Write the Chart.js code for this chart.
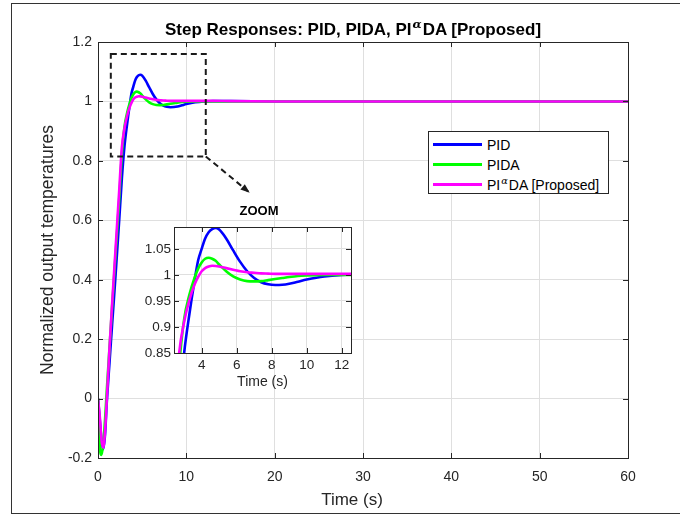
<!DOCTYPE html>
<html>
<head>
<meta charset="utf-8">
<script src="https://cdn.jsdelivr.net/npm/chart.js@4.4.1/dist/chart.umd.min.js"></script>
<style>
  body { margin: 0; background: #fff; font-family: "Liberation Sans", Arial, sans-serif; color: #262626; }
  #wrap { position: relative; width: 680px; height: 515px; overflow: hidden; }
  canvas { position: absolute; }
  #mainChart { left: 0; top: 0; }
  #zoomChart { left: 130px; top: 200px; }
  .txt { position: absolute; white-space: nowrap; line-height: 1; }
  #title { left: 103px; width: 500px; top: 21px; text-align: center; font-weight: bold; font-size: 17px; color: #000; }
  #xlab { left: 252px; width: 200px; top: 491px; text-align: center; font-size: 17px; }
  #zoomlab { left: 209px; width: 100px; top: 204px; text-align: center; font-weight: bold; font-size: 13px; color: #000; }
  .al { font-family: "DejaVu Serif", serif; font-style: italic; font-size: 0.7em; position: relative; top: -0.6em; margin: 0 1px; }
  #legend { position: absolute; left: 428px; top: 131px; width: 179px; height: 61px; border: 1px solid #262626; background: #fff; font-size: 14px; }
  .row { position: absolute; left: 4px; height: 20px; }
  .row > i { position: absolute; left: 0; top: 9px; width: 49px; height: 2.5px; }
  .row > .lbl { position: absolute; left: 54px; top: 3px; white-space: nowrap; color: #000; }
  #frame { position: absolute; left: 11px; top: 3px; width: 700px; height: 509px; border: 1.5px solid #333; pointer-events: none; }
</style>
</head>
<body>
<div id="wrap">
  <canvas id="mainChart" width="680" height="515"></canvas>
  <canvas id="zoomChart" width="230" height="195"></canvas>
  <div id="title" class="txt">Step Responses: PID, PIDA, PI<span class="al">α</span>DA [Proposed]</div>
  <div id="xlab" class="txt">Time (s)</div>
  <div id="zoomlab" class="txt">ZOOM</div>
  <div id="legend">
    <div class="row" style="top:2px"><i style="background:#0000ff"></i><span class="lbl">PID</span></div>
    <div class="row" style="top:22px"><i style="background:#00ff00"></i><span class="lbl">PIDA</span></div>
    <div class="row" style="top:42px"><i style="background:#ff00ff"></i><span class="lbl">PI<span class="al">α</span>DA [Proposed]</span></div>
  </div>
  <div id="frame"></div>
</div>
<script>
// step response samples (time in s)
const time = [0, 0.2, 0.4, 0.6, 0.8, 1.0, 1.3, 1.6, 2.0, 2.4, 2.7, 3.0, 3.3, 3.6, 3.8, 4.0, 4.2, 4.4, 4.6, 4.8,
  5.0, 5.4, 5.8, 6.2, 6.6, 7.0, 7.4, 7.8, 8.2, 8.6, 9.0, 9.5, 10, 11, 12, 13, 15, 20, 30, 40, 50, 60];
const pid = [0, -0.07, -0.14, -0.17, -0.12, -0.01, 0.12, 0.25, 0.42, 0.6, 0.74, 0.85, 0.925, 0.99, 1.028, 1.05, 1.07, 1.082, 1.088, 1.09,
  1.087, 1.07, 1.047, 1.025, 1.007, 0.994, 0.986, 0.982, 0.9805, 0.981, 0.983, 0.987, 0.991, 0.997, 1.0, 1.001, 1.001, 1.0, 1.0, 1.0, 1.0, 1.0];
const pida = [0, -0.16, -0.19, -0.15, -0.07, 0.03, 0.17, 0.31, 0.49, 0.67, 0.82, 0.915, 0.962, 0.995, 1.012, 1.024, 1.031, 1.033, 1.031, 1.027,
  1.02, 1.007, 0.997, 0.991, 0.988, 0.9875, 0.988, 0.99, 0.992, 0.994, 0.996, 0.998, 0.999, 1.0, 1.0, 1.0, 1.0, 1.0, 1.0, 1.0, 1.0, 1.0];
const pialphada = [0, -0.06, -0.14, -0.165, -0.11, 0.0, 0.17, 0.32, 0.51, 0.7, 0.845, 0.91, 0.952, 0.982, 0.996, 1.007, 1.013, 1.016, 1.0175, 1.017,
  1.016, 1.013, 1.01, 1.007, 1.005, 1.004, 1.003, 1.0025, 1.002, 1.002, 1.002, 1.002, 1.002, 1.002, 1.002, 1.002, 1.001, 1.0, 1.0, 1.0, 1.0, 1.0];

const xTicksMain = [0, 10, 20, 30, 40, 50, 60];
const yTicksMain = [-0.2, 0, 0.2, 0.4, 0.6, 0.8, 1, 1.2];
const xTicksZoom = [4, 6, 8, 10, 12];
const yTicksZoom = [0.85, 0.9, 0.95, 1, 1.05];
// dashed region on the main axes that the inset magnifies
const zoomBox = { x0: 1.45, x1: 12.2, y0: 0.815, y1: 1.16 };
const arrowTip = { x: 17.0, y: 0.697 };

const fontFam = '"Liberation Sans", Arial, sans-serif';
const axisCol = '#262626';
const gridCol = '#dfdfdf';

function pts(vals) {
  return time.map((t, i) => ({ x: t, y: vals[i] }));
}

function series() {
  return [
    { label: 'PID', data: pts(pid), borderColor: '#0000ff', order: 2 },
    { label: 'PIDA', data: pts(pida), borderColor: '#00ff00', order: 1 },
    { label: 'PIαDA [Proposed]', data: pts(pialphada), borderColor: '#ff00ff', order: 0 }
  ].map(d => Object.assign(d, { borderWidth: 2.6, pointRadius: 0, cubicInterpolationMode: 'monotone', fill: false }));
}

function fmt(v) {
  return String(+Number(v).toFixed(2));
}

// matlab style box: white plot area, dark outline, inward tick marks
const boxPlugin = {
  id: 'boxPlugin',
  beforeDraw(chart) {
    const { ctx, chartArea: a } = chart;
    ctx.save();
    ctx.fillStyle = '#fff';
    ctx.fillRect(a.left, a.top, a.right - a.left, a.bottom - a.top);
    ctx.restore();
  },
  afterDatasetsDraw(chart) {
    const { ctx, chartArea: a, scales } = chart;
    const len = 5;
    ctx.save();
    ctx.strokeStyle = axisCol;
    ctx.lineWidth = 1;
    ctx.beginPath();
    scales.x.ticks.forEach(t => {
      const px = Math.round(scales.x.getPixelForValue(t.value)) + 0.5;
      ctx.moveTo(px, a.bottom); ctx.lineTo(px, a.bottom - len);
      ctx.moveTo(px, a.top); ctx.lineTo(px, a.top + len);
    });
    scales.y.ticks.forEach(t => {
      const py = Math.round(scales.y.getPixelForValue(t.value)) + 0.5;
      ctx.moveTo(a.left, py); ctx.lineTo(a.left + len, py);
      ctx.moveTo(a.right, py); ctx.lineTo(a.right - len, py);
    });
    ctx.stroke();
    ctx.strokeRect(Math.round(a.left) + 0.5, Math.round(a.top) + 0.5, Math.round(a.right - a.left), Math.round(a.bottom - a.top));
    ctx.restore();
  }
};

const zoomMarkPlugin = {
  id: 'zoomMark',
  afterDatasetsDraw(chart) {
    const { ctx, scales: { x, y } } = chart;
    const l = x.getPixelForValue(zoomBox.x0), r = x.getPixelForValue(zoomBox.x1);
    const t = y.getPixelForValue(zoomBox.y1), b = y.getPixelForValue(zoomBox.y0);
    const ax = x.getPixelForValue(arrowTip.x), ay = y.getPixelForValue(arrowTip.y);
    ctx.save();
    ctx.strokeStyle = '#1a1a1a';
    ctx.lineWidth = 2;
    ctx.setLineDash([6, 4]);
    ctx.strokeRect(l, t, r - l, b - t);
    ctx.beginPath();
    ctx.moveTo(r, b);
    ctx.lineTo(ax, ay);
    ctx.stroke();
    ctx.setLineDash([]);
    const ang = Math.atan2(ay - b, ax - r);
    ctx.fillStyle = '#1a1a1a';
    ctx.beginPath();
    ctx.moveTo(ax + 2 * Math.cos(ang), ay + 2 * Math.sin(ang));
    ctx.lineTo(ax - 8 * Math.cos(ang - 0.45), ay - 8 * Math.sin(ang - 0.45));
    ctx.lineTo(ax - 8 * Math.cos(ang + 0.45), ay - 8 * Math.sin(ang + 0.45));
    ctx.closePath();
    ctx.fill();
    ctx.restore();
  }
};

new Chart(document.getElementById('mainChart').getContext('2d'), {
  type: 'line',
  data: { datasets: series() },
  options: {
    responsive: false,
    animation: false,
    devicePixelRatio: 1,
    layout: { padding: { left: 0, right: 52, top: 42, bottom: 0 } },
    plugins: { legend: { display: false }, title: { display: false }, tooltip: { enabled: false } },
    scales: {
      x: {
        type: 'linear', min: 0, max: 60,
        afterBuildTicks: s => { s.ticks = xTicksMain.map(v => ({ value: v })); },
        afterFit: s => { s.height = 57; },
        ticks: { color: axisCol, font: { family: fontFam, size: 14 }, padding: 11, maxRotation: 0, autoSkip: false, callback: fmt },
        grid: { color: gridCol, drawTicks: false },
        border: { display: false }
      },
      y: {
        type: 'linear', min: -0.2, max: 1.2,
        afterBuildTicks: s => { s.ticks = yTicksMain.map(v => ({ value: v })); },
        afterFit: s => { s.width = 98; },
        ticks: { color: axisCol, font: { family: fontFam, size: 14 }, padding: 6, autoSkip: false, callback: fmt },
        grid: { color: gridCol, drawTicks: false },
        border: { display: false },
        title: { display: true, text: 'Normalized output temperatures', color: axisCol, font: { family: fontFam, size: 17.5 }, padding: { top: 38, bottom: 0 } }
      }
    }
  },
  plugins: [boxPlugin, zoomMarkPlugin]
});

new Chart(document.getElementById('zoomChart').getContext('2d'), {
  type: 'line',
  data: { datasets: series() },
  options: {
    responsive: false,
    animation: false,
    devicePixelRatio: 1,
    layout: { padding: { left: 0, right: 9, top: 27, bottom: 0 } },
    plugins: { legend: { display: false }, title: { display: false }, tooltip: { enabled: false } },
    scales: {
      x: {
        type: 'linear', min: 2.42, max: 12.53,
        afterBuildTicks: s => { s.ticks = xTicksZoom.map(v => ({ value: v })); },
        afterFit: s => { s.height = 42; },
        ticks: { color: axisCol, font: { family: fontFam, size: 13.5 }, padding: 4, maxRotation: 0, autoSkip: false, callback: fmt },
        grid: { color: gridCol, drawTicks: false },
        border: { display: false },
        title: { display: true, text: 'Time (s)', color: axisCol, font: { family: fontFam, size: 14 }, padding: { top: 0, bottom: 4 } }
      },
      y: {
        type: 'linear', min: 0.85, max: 1.092,
        afterBuildTicks: s => { s.ticks = yTicksZoom.map(v => ({ value: v })); },
        afterFit: s => { s.width = 44; },
        ticks: { color: axisCol, font: { family: fontFam, size: 13.5 }, padding: 3, autoSkip: false, callback: fmt },
        grid: { color: gridCol, drawTicks: false },
        border: { display: false }
      }
    }
  },
  plugins: [boxPlugin]
});
</script>
</body>
</html>
